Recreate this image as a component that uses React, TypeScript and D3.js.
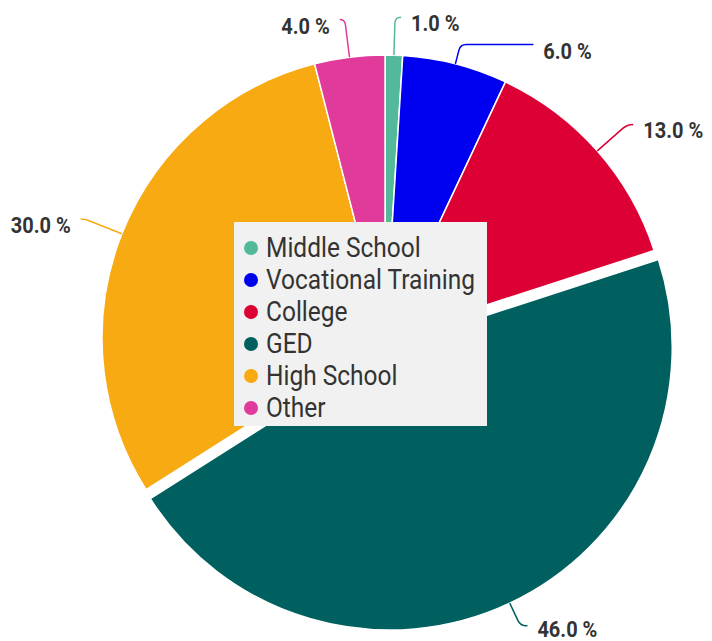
import React from "react";
import * as d3 from "d3";

const categories = ["Middle School", "Vocational Training", "College", "GED", "High School", "Other"];
const values = [1.0, 6.0, 13.0, 46.0, 30.0, 4.0];
const colors = ["#52b99a", "#0000f0", "#dc0035", "#005f5f", "#f8aa12", "#e03a9a"];
const exploded = [false, false, false, true, false, false];
// leader layout: radial extension and horizontal extension for each label
const leaderRadial = [38, 20, 40, 25, 40, 38];
const leaderHoriz = [6, 73, 6, 7, -4, -5];

const W = 712;
const H = 641;
const cx = 385;
const cy = 338;
const R = 283;
const explodeDist = 10;

export default function App() {
  const pie = d3.pie<number>().sort(null).value((d) => d);
  const arcs = pie(values);
  const arcGen = d3.arc<d3.PieArcDatum<number>>().innerRadius(0).outerRadius(R);

  const pt = (a: number, r: number, ox: number, oy: number) => [ox + r * Math.sin(a), oy - r * Math.cos(a)];

  return (
    <svg width={W} height={H} style={{ position: "absolute", left: 0, top: 0, background: "#fff" }}>
      {arcs.map((a, i) => {
        const mid = (a.startAngle + a.endAngle) / 2;
        const off = exploded[i] ? explodeDist : 0;
        const ox = cx + off * Math.sin(mid);
        const oy = cy - off * Math.cos(mid);
        return (
          <path
            key={"s" + i}
            d={arcGen(a) || ""}
            transform={`translate(${ox},${oy})`}
            fill={colors[i]}
            stroke="#fff"
            strokeWidth={1.5}
            strokeLinejoin="round"
          />
        );
      })}
      {arcs.map((a, i) => {
        const mid = (a.startAngle + a.endAngle) / 2;
        const off = exploded[i] ? explodeDist : 0;
        const ox = cx + off * Math.sin(mid);
        const oy = cy - off * Math.cos(mid);
        const [sx, sy] = pt(mid, R, ox, oy);
        const [ex, ey] = pt(mid, R + leaderRadial[i], ox, oy);
        const h = leaderHoriz[i];
        const sign = h >= 0 ? 1 : -1;
        const cr = Math.min(6, Math.abs(h));
        const len = leaderRadial[i];
        const t = Math.max(0, (len - cr) / len);
        const bx = sx + (ex - sx) * t;
        const by = sy + (ey - sy) * t;
        const fx = ex + h;
        const fy = ey;
        const pathD = `M${sx},${sy} L${bx},${by} Q${ex},${ey} ${ex + sign * cr},${ey} L${fx},${fy}`;
        const lx = fx + sign * 10;
        const ly = Math.min(fy + 14, H - 4);
        return (
          <g key={"l" + i}>
            <path d={pathD} fill="none" stroke={colors[i]} strokeWidth={1.5} />
            <text
              x={lx}
              y={ly}
              textAnchor={sign > 0 ? "start" : "end"}
              fontFamily="Roboto, sans-serif"
              fontWeight="bold"
              fontSize={20}
              fill="#333"
              transform={`translate(0,${ly}) scale(1,1.07) translate(0,${-ly})`}
            >
              {values[i].toFixed(1) + " %"}
            </text>
          </g>
        );
      })}
      <g>
        <rect x={234} y={222} width={253} height={204} fill="#f1f1f1" />
        {categories.map((c, i) => (
          <g key={"g" + i} transform={`translate(251,${248 + i * 32})`}>
            <circle cx={0} cy={0} r={7} fill={colors[i]} />
            <text
              x={15}
              y={9}
              fontFamily="Roboto, sans-serif"
              fontSize={24.5}
              fill="#333"
              transform="translate(0,9) scale(1,1.1) translate(0,-9)"
            >
              {c}
            </text>
          </g>
        ))}
      </g>
    </svg>
  );
}
